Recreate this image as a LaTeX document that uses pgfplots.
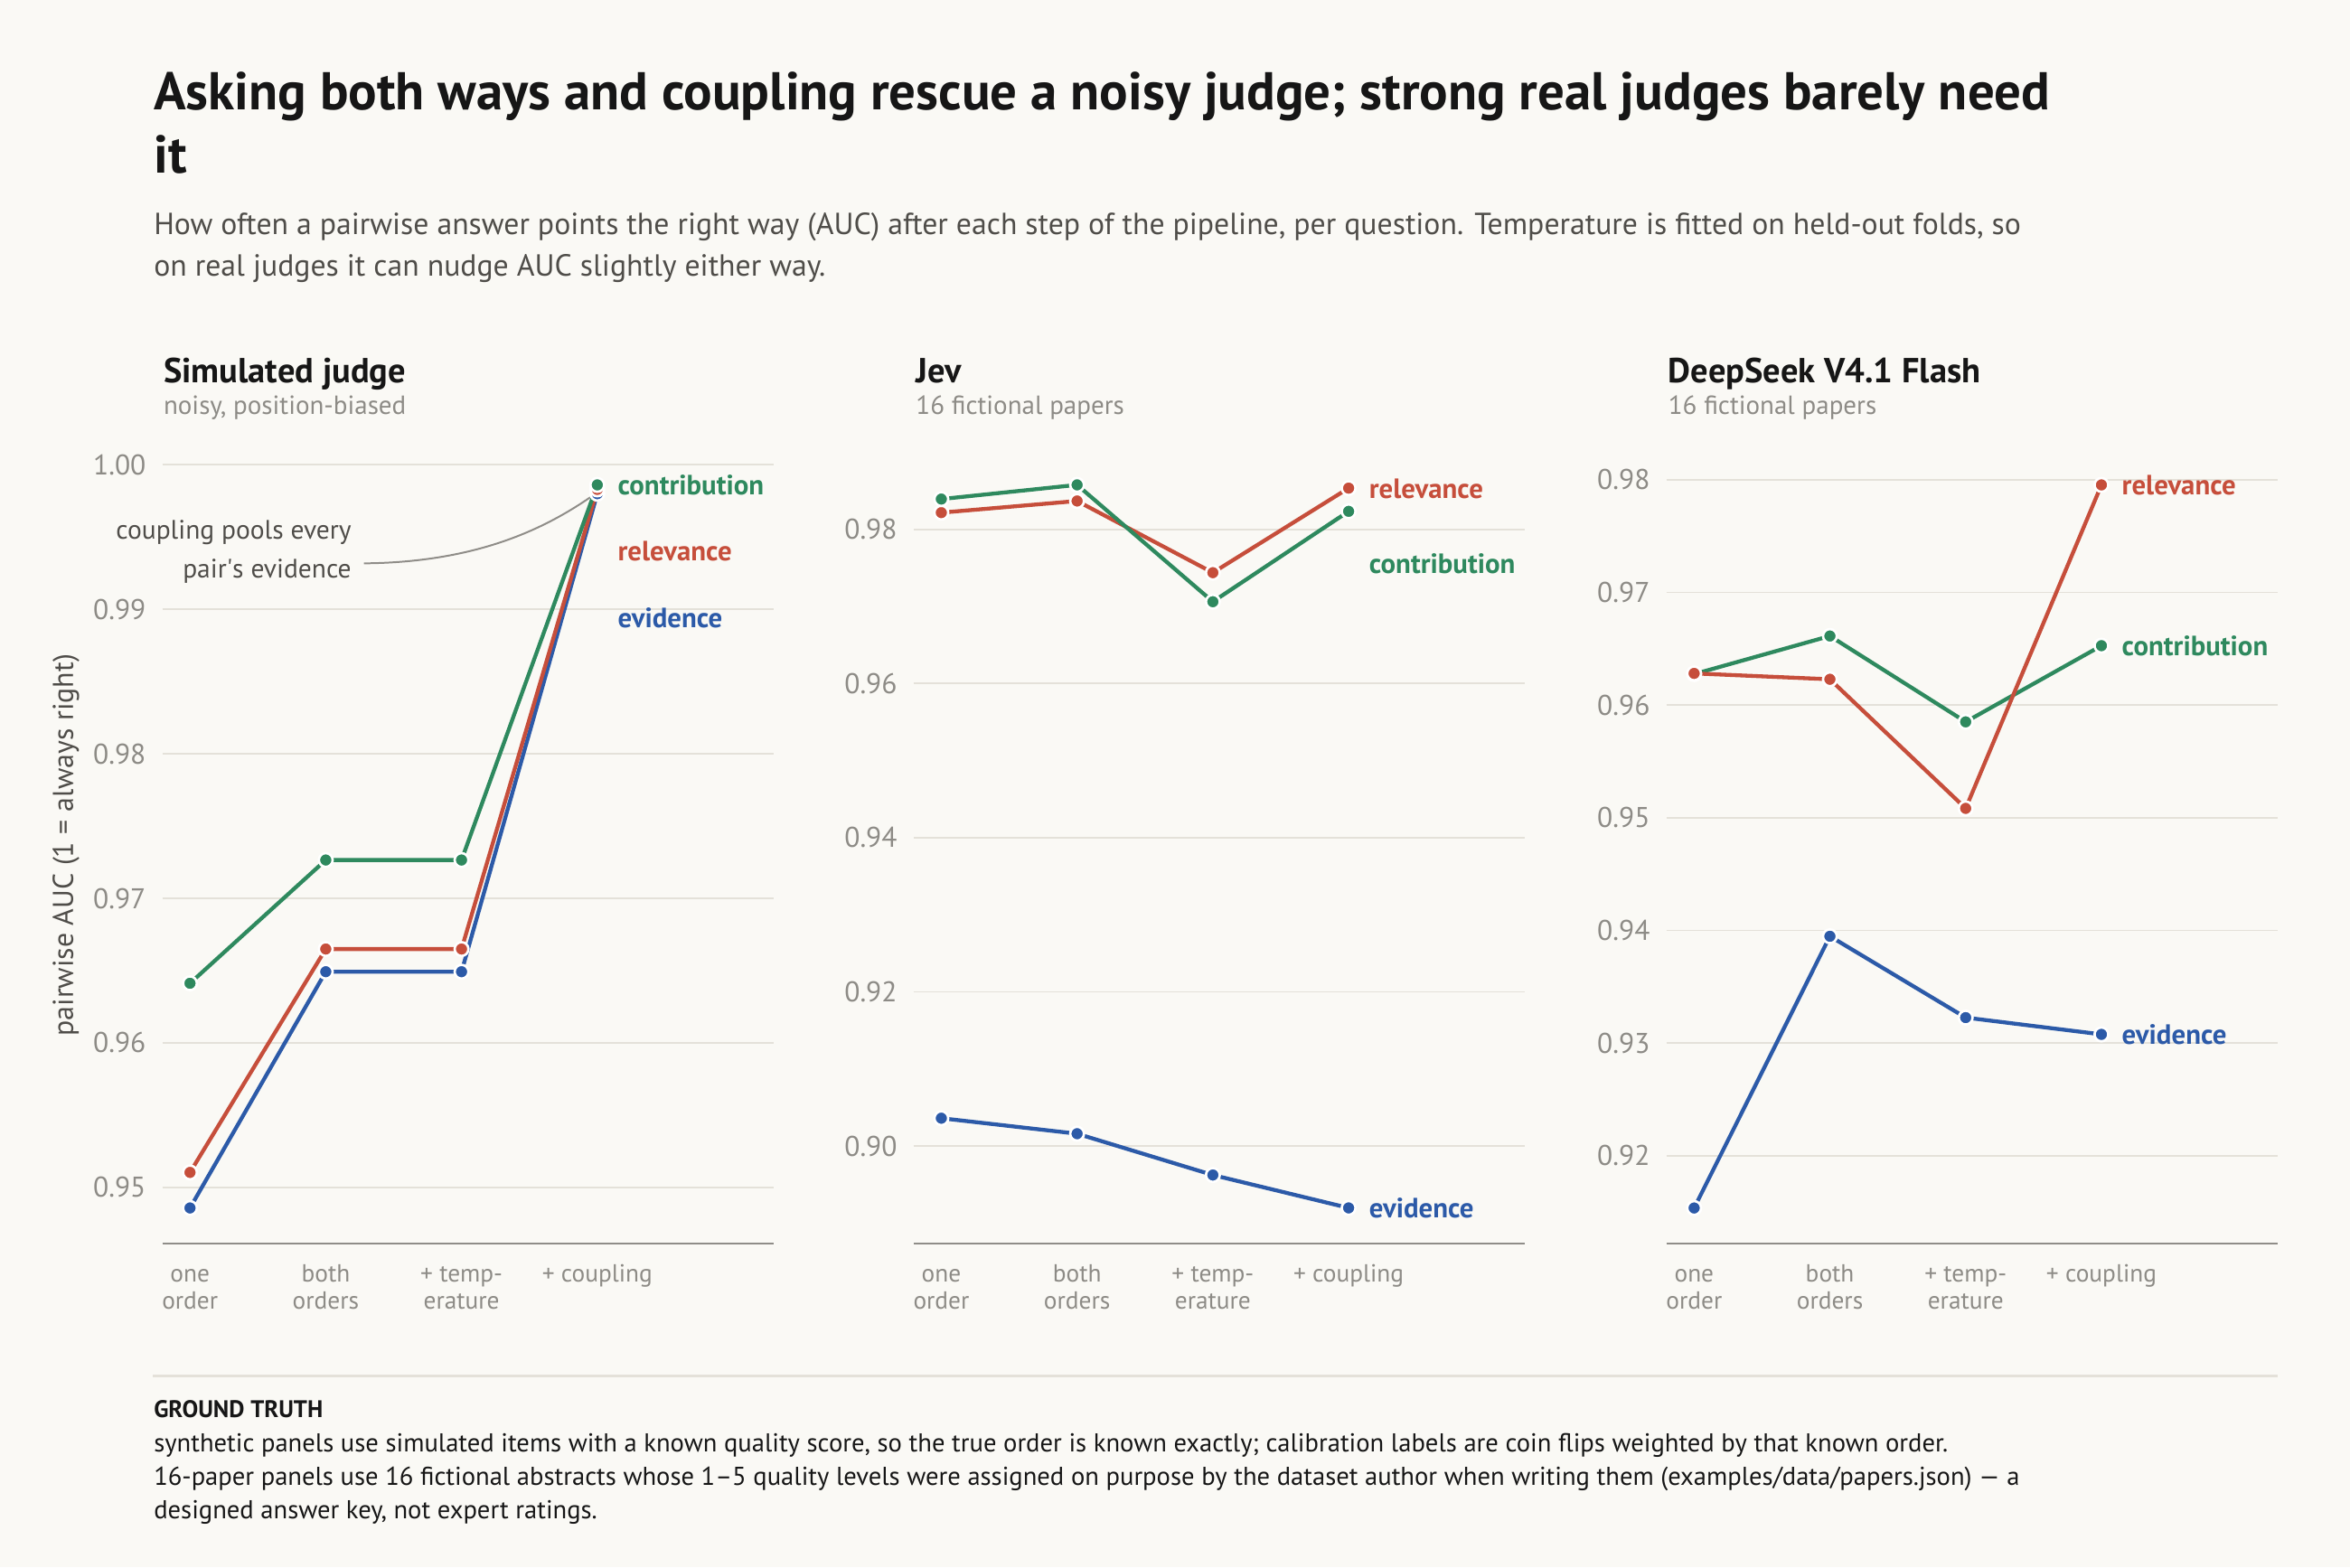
\documentclass[border=0pt]{standalone}
\usepackage{pgfplots}
\pgfplotsset{compat=1.18}
\usepackage{fontspec}
\setmainfont{PT Sans}
\setsansfont{PT Sans}
\definecolor{bg}{HTML}{FAF9F5}
\definecolor{cgrn}{HTML}{2E895E}
\definecolor{cred}{HTML}{C64E3B}
\definecolor{cblu}{HTML}{2C5AA8}
\definecolor{cgrid}{HTML}{E4E1D9}
\definecolor{caxis}{HTML}{8F8D88}
\definecolor{ctick}{HTML}{8D8B86}
\definecolor{csub}{HTML}{4F4D49}
\definecolor{ctitle}{HTML}{161616}
\newcommand{\fs}[2]{\fontsize{#1}{#2}\selectfont}

\pgfplotsset{
  panel/.style={
    scale only axis, width=408pt, height=533.7pt,
    xmin=-0.204, xmax=4.3,
    separate axis lines,
    axis x line*=bottom, axis y line*=left,
    x axis line style={draw=caxis, line width=1.3pt},
    y axis line style={draw=none},
    major tick length=0pt,
    tick style={draw=none},
    xtick={0,1,2,3},
    xticklabels={{\strut one\\order},{\strut both\\orders},{\strut + temp-\\erature},{\strut + coupling}},
    xticklabel style={align=center, font=\fs{16.5}{18.6}, text=ctick, anchor=north, inner sep=0pt, yshift=-12.3pt},
    ymajorgrids, grid style={draw=cgrid, line width=1.1pt},
    yticklabel style={font=\fs{19}{22}, text=ctick, anchor=east, inner sep=0pt, xshift=-10.8pt,
      /pgf/number format/fixed, /pgf/number format/fixed zerofill,
      /pgf/number format/precision=2, /pgf/number format/assume math mode=true},
    clip=false,
    every axis plot/.append style={line width=2.6pt, mark=*, mark size=4.6pt},
  },
}
\tikzset{
  ser/.style={color=#1, mark options={fill=#1, draw=white, line width=1.6pt}},
  lab/.style={anchor=west, inner sep=0pt, xshift=13.5pt, text=#1, font=\bfseries\fs{18.6}{21}},
}

\begin{document}
\begin{tikzpicture}
\useasboundingbox (0,0) rectangle (1568pt,-1046pt);
\fill[bg] (0,0) rectangle (1568pt,-1046pt);

% Title and subtitle
\node[anchor=base west, inner sep=0pt, text=ctitle, font=\bfseries\fs{35.5}{41}] at (102.5pt,-73.4pt)
  {Asking both ways and coupling rescue a noisy judge; strong real judges barely need};
\node[anchor=base west, inner sep=0pt, text=ctitle, font=\bfseries\fs{35.5}{41}] at (102.5pt,-115.6pt) {it};
\node[anchor=base west, inner sep=0pt, text=csub, font=\fs{20.35}{27}] at (102.5pt,-156.8pt)
  {How often a pairwise answer points the right way (AUC) after each step of the pipeline, per question. Temperature is fitted on held-out folds, so};
\node[anchor=base west, inner sep=0pt, text=csub, font=\fs{20.35}{27}] at (102.5pt,-184.4pt)
  {on real judges it can nudge AUC slightly either way.};

% Panel titles
\node[anchor=base west, inner sep=0pt, text=ctitle, font=\bfseries\fs{23.2}{26}] at (109pt,-255.5pt) {Simulated judge};
\node[anchor=base west, inner sep=0pt, text=ctick, font=\fs{17.5}{20}] at (109pt,-276.6pt) {noisy, position-biased};
\node[anchor=base west, inner sep=0pt, text=ctitle, font=\bfseries\fs{23.2}{26}] at (611pt,-255.5pt) {Jev};
\node[anchor=base west, inner sep=0pt, text=ctick, font=\fs{17.5}{20}] at (611pt,-276.6pt) {16 fictional papers};
\node[anchor=base west, inner sep=0pt, text=ctitle, font=\bfseries\fs{23.2}{26}] at (1113pt,-255.5pt) {DeepSeek V4.1 Flash};
\node[anchor=base west, inner sep=0pt, text=ctick, font=\fs{17.5}{20}] at (1113pt,-276.6pt) {16 fictional papers};

% y label
\node[rotate=90, anchor=center, inner sep=0pt, text=csub, font=\fs{19.2}{22}] at (44pt,-564pt) {pairwise AUC (1 = always right)};

% annotation text
\node[anchor=base east, inner sep=0pt, text=csub, font=\fs{17.8}{20}] at (234.6pt,-359.7pt) {coupling pools every};
\node[anchor=base east, inner sep=0pt, text=csub, font=\fs{17.8}{20}] at (234.6pt,-385.4pt) {pair\textquotesingle s evidence};

% Panel 1
\begin{axis}[panel, at={(108.3pt,-829.7pt)}, anchor=south west,
  ymin=0.94612, ymax=1.00147, ytick={0.95,0.96,0.97,0.98,0.99,1.00}]
\draw[draw=caxis, line width=1.2pt] (axis cs:1.281,0.99318) .. controls (axis cs:2.1,0.99325) and (axis cs:2.6,0.9955) .. (axis cs:2.951,0.99777);
\addplot[ser=cblu] coordinates {(0,0.94857) (1,0.96492) (2,0.96492) (3,0.99800)};
\addplot[ser=cred] coordinates {(0,0.95103) (1,0.96649) (2,0.96649) (3,0.99830)};
\addplot[ser=cgrn] coordinates {(0,0.96412) (1,0.97265) (2,0.97265) (3,0.99861)};
\node[lab=cgrn] at (axis cs:3,0.99862) {contribution};
\node[lab=cred] at (axis cs:3,0.99402) {relevance};
\node[lab=cblu] at (axis cs:3,0.98941) {evidence};
\end{axis}

% Panel 2
\begin{axis}[panel, at={(609.6pt,-829.7pt)}, anchor=south west,
  ymin=0.88736, ymax=0.99114, ytick={0.90,0.92,0.94,0.96,0.98}]
\addplot[ser=cblu] coordinates {(0,0.90360) (1,0.90159) (2,0.89623) (3,0.89196)};
\addplot[ser=cred] coordinates {(0,0.98218) (1,0.98369) (2,0.97439) (3,0.98536)};
\addplot[ser=cgrn] coordinates {(0,0.98394) (1,0.98578) (2,0.97062) (3,0.98235)};
\node[lab=cred] at (axis cs:3,0.98529) {relevance};
\node[lab=cgrn] at (axis cs:3,0.97557) {contribution};
\node[lab=cblu] at (axis cs:3,0.89197) {evidence};
\end{axis}

% Panel 3
\begin{axis}[panel, at={(1111.9pt,-829.7pt)}, anchor=south west,
  ymin=0.91222, ymax=0.98321, ytick={0.92,0.93,0.94,0.95,0.96,0.97,0.98}]
\addplot[ser=cblu] coordinates {(0,0.91536) (1,0.93948) (2,0.93226) (3,0.93077)};
\addplot[ser=cgrn] coordinates {(0,0.96275) (1,0.96613) (2,0.95851) (3,0.96527)};
\addplot[ser=cred] coordinates {(0,0.96281) (1,0.96229) (2,0.95083) (3,0.97954)};
\node[lab=cred] at (axis cs:3,0.97955) {relevance};
\node[lab=cgrn] at (axis cs:3,0.96528) {contribution};
\node[lab=cblu] at (axis cs:3,0.93077) {evidence};
\end{axis}

% Footer
\draw[draw=cgrid, line width=1.3pt] (102pt,-918.2pt) -- (1520pt,-918.2pt);
\node[anchor=base west, inner sep=0pt, text=ctitle, font=\bfseries\fs{16}{18}] at (102.5pt,-945.9pt) {GROUND TRUTH};
\node[anchor=base west, inner sep=0pt, text=ctitle, font=\fs{17.25}{22}] at (102.5pt,-968.6pt)
  {synthetic panels use simulated items with a known quality score, so the true order is known exactly; calibration labels are coin flips weighted by that known order.};
\node[anchor=base west, inner sep=0pt, text=ctitle, font=\fs{17.25}{22}] at (102.5pt,-991pt)
  {16-paper panels use 16 fictional abstracts whose 1–5 quality levels were assigned on purpose by the dataset author when writing them (examples/data/papers.json) — a};
\node[anchor=base west, inner sep=0pt, text=ctitle, font=\fs{17.25}{22}] at (102.5pt,-1013.4pt)
  {designed answer key, not expert ratings.};
\end{tikzpicture}
\end{document}
